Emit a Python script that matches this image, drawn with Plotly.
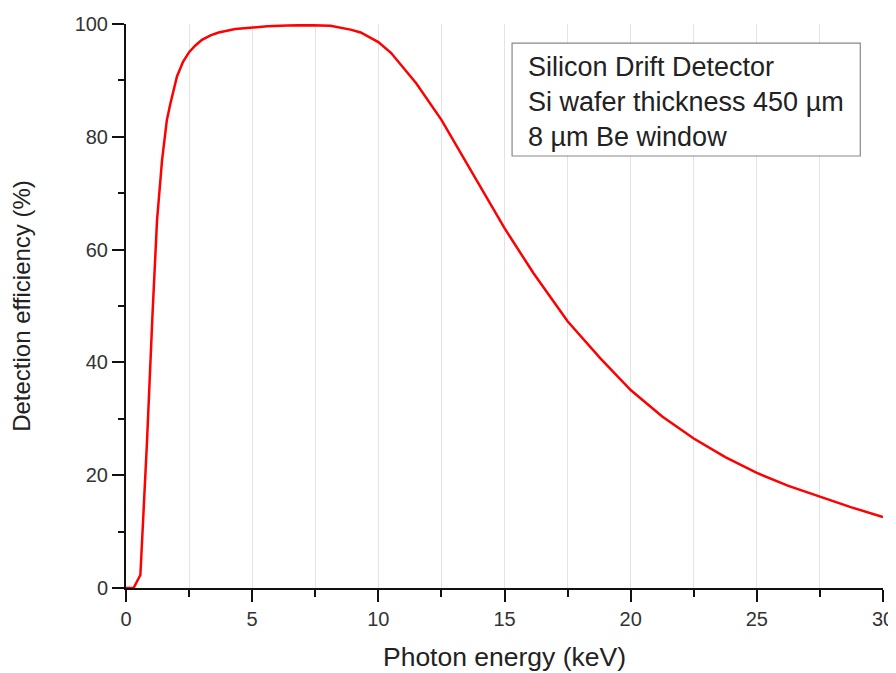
import plotly.graph_objects as go

energy_kev = [0, 0.3, 0.57, 0.83, 1.05, 1.23, 1.43, 1.62, 1.76, 2.02, 2.26, 2.5, 2.75,
              3.01, 3.35, 3.67, 4.33, 5.0, 5.6, 6.4, 7.2, 8.1, 8.5, 8.9, 9.3, 10.0, 10.5,
              10.9, 11.5, 12.5, 13.5, 14.3, 15.0, 16.15, 17.5, 18.8, 20.0, 21.25, 22.5,
              23.75, 25.0, 26.25, 27.5, 28.75, 30.0]
efficiency_pct = [0, 0, 2.3, 25.7, 48.5, 65.2, 75.9, 83.0, 85.9, 90.7, 93.3, 95.0, 96.2,
                  97.2, 98.0, 98.5, 99.1, 99.4, 99.6, 99.75, 99.8, 99.7, 99.4, 99.0, 98.5, 96.8, 94.9,
                  92.7, 89.5, 83.0, 75.3, 69.0, 63.8, 55.8, 47.3, 40.7, 35.1, 30.4, 26.5,
                  23.2, 20.4, 18.1, 16.2, 14.3, 12.6]

x_ticks = [0, 5, 10, 15, 20, 25, 30]
y_ticks = [0, 20, 40, 60, 80, 100]
box_lines = ["Silicon Drift Detector", "Si wafer thickness 450 µm", "8 µm Be window"]

FONT = "Liberation Sans, Arial, sans-serif"

fig = go.Figure()
fig.add_trace(go.Scatter(x=energy_kev, y=efficiency_pct, mode="lines",
                         line=dict(color="#ff0000", width=2.5), showlegend=False))

# page body has an 8px default margin, so the figure is sized to fit inside it
fig.update_layout(
    width=888, height=664,
    margin=dict(l=118, r=13, t=16, b=84),
    paper_bgcolor="white", plot_bgcolor="white",
    font=dict(family=FONT, color="#333333"),
    xaxis=dict(
        range=[0, 30], tickvals=x_ticks, ticks="outside", ticklen=12, tickwidth=2,
        tickcolor="#111111", showline=True, linecolor="#111111", linewidth=2,
        showgrid=True, gridcolor="#e3e3e3", gridwidth=1, zeroline=False, automargin=False,
        tickfont=dict(size=20, color="#333333"),
        minor=dict(dtick=2.5, ticks="outside", ticklen=7, tickwidth=2, tickcolor="#111111",
                   showgrid=True, gridcolor="#e3e3e3", gridwidth=1),
        title=dict(text="Photon energy (keV)", font=dict(size=26.5, color="#222222"), standoff=28),
    ),
    yaxis=dict(
        range=[0, 100], tickvals=y_ticks, ticks="outside", ticklen=12, tickwidth=2,
        tickcolor="#111111", showline=True, linecolor="#111111", linewidth=2,
        showgrid=False, zeroline=False, automargin=False,
        tickfont=dict(size=20, color="#333333"),
        minor=dict(dtick=10, ticks="outside", ticklen=6, tickwidth=2, tickcolor="#111111",
                   showgrid=False),
        title=dict(text="Detection efficiency (%)", font=dict(size=24, color="#222222"), standoff=39),
    ),
)

fig.add_shape(type="rect", xref="x", yref="y", x0=15.3, x1=29.1, y0=76.6, y1=96.6,
              line=dict(color="#888888", width=1.2), fillcolor="white", layer="above")
fig.add_annotation(xref="x", yref="y", x=15.86, y=86.2, xanchor="left", yanchor="middle",
                   text="<br>".join(box_lines), align="left", showarrow=False,
                   font=dict(size=27, color="#222222", family=FONT))

fig.write_html("out.html")
